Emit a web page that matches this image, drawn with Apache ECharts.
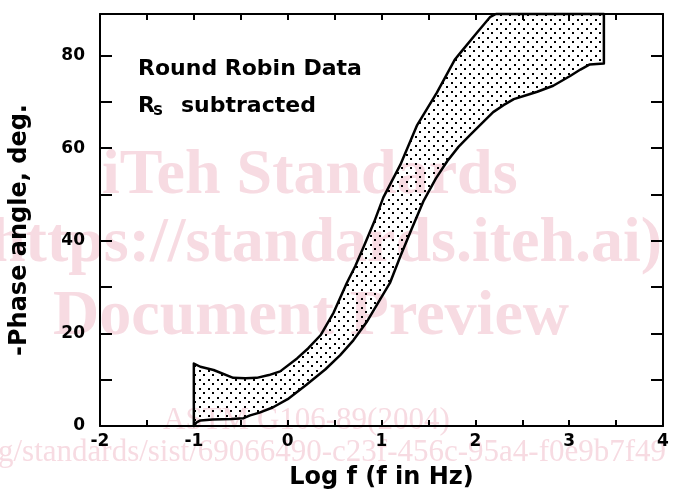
<!DOCTYPE html>
<html>
<head>
<meta charset="utf-8">
<script src="https://cdn.jsdelivr.net/npm/echarts@6/dist/echarts.min.js"></script>
<style>
  html, body { margin: 0; padding: 0; background: #fff; }
  #chart { width: 674px; height: 495px; }
</style>
</head>
<body>
<div id="chart"></div>
<script>
// upper boundary of the round robin band (log f, -phase deg)
const upperX = [-1.00, -0.93, -0.79, -0.58, -0.45, -0.33, -0.20, -0.08, 0.10, 0.22, 0.35, 0.49, 0.63, 0.72, 0.81, 0.92, 1.02, 1.20, 1.38, 1.59, 1.78, 1.84, 2.01, 2.16, 2.22, 3.37];
const upperY = [13.5, 12.8, 12.1, 10.4, 10.3, 10.4, 11.0, 11.8, 14.6, 16.8, 19.6, 24.5, 30.9, 34.5, 38.7, 44.0, 49.4, 56.4, 65.0, 72.0, 79.1, 80.6, 84.8, 88.4, 89.0, 89.0];
// lower boundary
const lowerX = [-1.00, -0.97, -0.93, -0.80, -0.60, -0.47, -0.40, -0.30, -0.16, 0.00, 0.20, 0.40, 0.56, 0.70, 0.84, 0.96, 1.09, 1.20, 1.32, 1.45, 1.58, 1.70, 1.82, 1.94, 2.05, 2.19, 2.30, 2.41, 2.55, 2.66, 2.83, 3.01, 3.12, 3.22, 3.37];
const lowerY = [0.0, 0.8, 1.2, 1.4, 1.5, 1.7, 2.3, 2.9, 4.0, 5.8, 8.9, 12.2, 15.3, 18.5, 22.4, 26.5, 30.9, 36.6, 42.5, 48.7, 53.5, 57.2, 60.3, 62.8, 65.0, 67.8, 69.3, 70.6, 71.5, 72.2, 73.5, 75.6, 77.0, 78.1, 78.3];

const xTicks = [-2, -1, 0, 1, 2, 3, 4];
const yTicks = [0, 20, 40, 60, 80];

const watermark = ["iTeh Standards", "https://standards.iteh.ai)", "Document Preview"];
const watermarkSmall = ["ASTM G106-89(2004)", "g/standards/sist/69066490-c23f-456c-95a4-f0e9b7f49"];

// dotted fill like the printed figure
function dotPattern() {
  const c = document.createElement("canvas");
  c.width = 9;
  c.height = 9;
  const ctx = c.getContext("2d");
  ctx.fillStyle = "#000";
  ctx.fillRect(1, 1, 2, 2);
  ctx.fillRect(5, 5, 2, 2);
  return { image: c, repeat: "repeat" };
}

const chart = echarts.init(document.getElementById("chart"), null, { renderer: "canvas" });
const pattern = dotPattern();
const bold = { color: "#000", fontWeight: "bold", fontFamily: "DejaVu Sans" };
const pink = "#f7dbe2";

const axisLine = { show: true, onZero: false, lineStyle: { color: "#000", width: 2 } };
const xTick = { show: true, inside: true, length: 6, lineStyle: { color: "#000", width: 2 } };
const yTick = { show: true, inside: true, length: 12, lineStyle: { color: "#000", width: 2 } };

chart.setOption({
  animation: false,
  grid: { left: 100, right: 11, top: 14, bottom: 63 },
  xAxis: [
    {
      type: "value",
      min: -2,
      max: 4,
      interval: 0.5,
      position: "bottom",
      axisLine: axisLine,
      axisTick: xTick,
      splitLine: { show: false },
      axisLabel: {
        margin: 7,
        fontSize: 17,
        ...bold,
        formatter: v => (xTicks.indexOf(v) >= 0 ? String(v) : "")
      },
      name: "Log f (f in Hz)",
      nameLocation: "middle",
      nameGap: 40,
      nameTextStyle: { fontSize: 24, ...bold }
    },
    {
      type: "value",
      min: -2,
      max: 4,
      interval: 0.5,
      position: "top",
      axisLine: axisLine,
      axisTick: xTick,
      axisLabel: { show: false },
      splitLine: { show: false }
    }
  ],
  yAxis: [
    {
      type: "value",
      min: 0,
      max: 89,
      interval: 10,
      position: "left",
      axisLine: axisLine,
      axisTick: yTick,
      splitLine: { show: false },
      axisLabel: {
        margin: 15,
        fontSize: 17,
        ...bold,
        showMaxLabel: false,
        formatter: v => (yTicks.indexOf(v) >= 0 ? String(v) : "")
      },
      name: "-Phase angle, deg.",
      nameLocation: "middle",
      nameRotate: 90,
      nameGap: 68,
      nameTextStyle: { fontSize: 24, ...bold, padding: [0, 20, 0, 0] }
    },
    {
      type: "value",
      min: 0,
      max: 89,
      interval: 10,
      position: "right",
      axisLine: axisLine,
      axisTick: yTick,
      axisLabel: { show: false },
      splitLine: { show: false }
    }
  ],
  graphic: [
    { type: "text", left: 102, top: 144, z: 0, silent: true,
      style: { text: watermark[0], fill: pink, font: "bold 64px 'Liberation Serif'" } },
    { type: "text", left: -10, top: 212, z: 0, silent: true,
      style: { text: watermark[1], fill: pink, font: "bold 64px 'Liberation Serif'" } },
    { type: "text", left: 53, top: 285, z: 0, silent: true,
      style: { text: watermark[2], fill: pink, font: "bold 64px 'Liberation Serif'" } },
    { type: "text", left: 163, top: 405, z: 0, silent: true,
      style: { text: watermarkSmall[0], fill: pink, font: "31px 'Liberation Serif'" } },
    { type: "text", left: -2, top: 437, z: 0, silent: true,
      style: { text: watermarkSmall[1], fill: pink, font: "31px 'Liberation Serif'" } },
    { type: "text", left: 138, top: 58, z: 10,
      style: { text: "Round Robin Data", fill: "#000", font: "bold 22px 'DejaVu Sans'" } },
    { type: "text", left: 138, top: 95, z: 10,
      style: { text: "R", fill: "#000", font: "bold 22px 'DejaVu Sans'" } },
    { type: "text", left: 153, top: 104, z: 10,
      style: { text: "S", fill: "#000", font: "bold 14px 'DejaVu Sans'" } },
    { type: "text", left: 181, top: 95, z: 10,
      style: { text: "subtracted", fill: "#000", font: "bold 22px 'DejaVu Sans'" } }
  ],
  series: [
    {
      type: "custom",
      coordinateSystem: "cartesian2d",
      xAxisIndex: 0,
      yAxisIndex: 0,
      z: 5,
      silent: true,
      data: [[upperX[0], upperY[0]]],
      renderItem: function (params, api) {
        const pts = [];
        for (let i = 0; i < upperX.length; i++) pts.push(api.coord([upperX[i], upperY[i]]));
        for (let i = lowerX.length - 1; i >= 0; i--) pts.push(api.coord([lowerX[i], lowerY[i]]));
        return {
          type: "polygon",
          shape: { points: pts },
          style: { fill: pattern, stroke: "#000", lineWidth: 2.5, lineJoin: "round" }
        };
      }
    }
  ]
});
</script>
</body>
</html>
